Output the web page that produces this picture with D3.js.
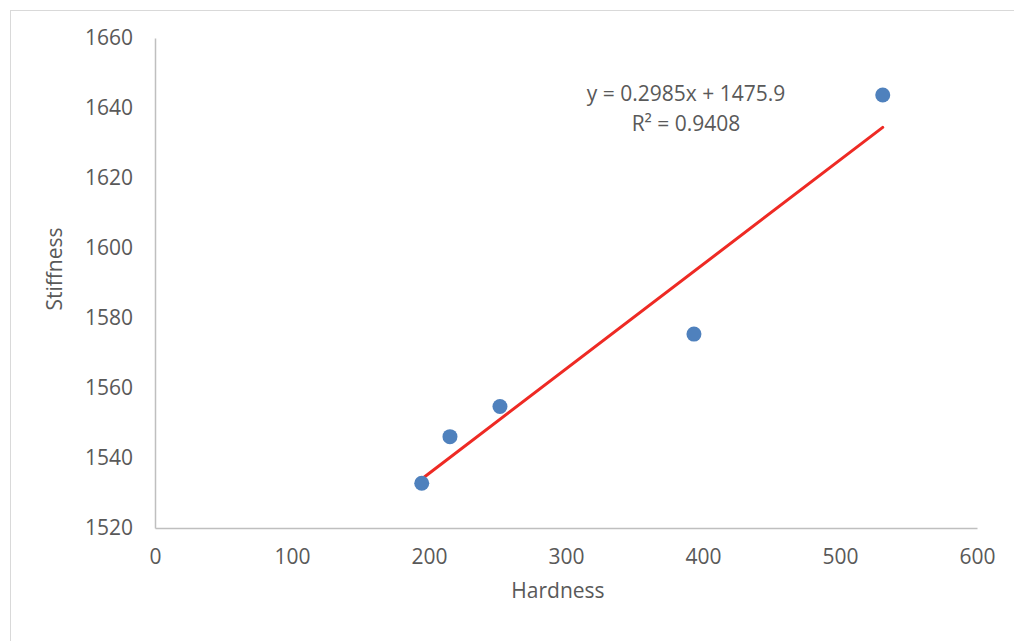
<!DOCTYPE html>
<html>
<head>
<meta charset="utf-8">
<script src="https://cdn.jsdelivr.net/npm/d3@7"></script>
<style>
    body { margin: 0; background: #fff; }
    text { font-family: "Open Sans", sans-serif; fill: #595959; }
</style>
</head>
<body>
<svg id="main-svg" width="1014" height="641"></svg>
<script>
// values
const hardness  = [194.7, 215.3, 251.8, 393.4, 531.2];
const stiffness = [1532.8, 1546.1, 1554.7, 1575.4, 1643.7];
const xTicks = [0, 100, 200, 300, 400, 500, 600];
const yTicks = [1520, 1540, 1560, 1580, 1600, 1620, 1640, 1660];
const trendSlope = 0.2985;
const trendIntercept = 1475.9;
const trendLabels = ["y = 0.2985x + 1475.9", "R\u00b2 = 0.9408"];

const svg = d3.select("#main-svg");

const plotLeft = 155, plotRight = 977, plotTop = 38, plotBottom = 528;
const fontSize = "21px";

// chart frame
svg.append("rect")
    .attr("x", 10.5).attr("y", 10.5)
    .attr("width", 1100).attr("height", 700)
    .attr("fill", "none")
    .attr("stroke", "#d9d9d9");

const x = d3.scaleLinear().domain([0, 600]).range([plotLeft, plotRight]);
const y = d3.scaleLinear().domain([1520, 1660]).range([plotBottom, plotTop]);

// axes, no tick marks, just the lines and labels
const xAxis = svg.append("g")
    .attr("transform", `translate(0,${plotBottom})`)
    .call(d3.axisBottom(x).tickValues(xTicks).tickFormat(d3.format("d")).tickSize(0).tickPadding(21));
const yAxis = svg.append("g")
    .attr("transform", `translate(${plotLeft},0)`)
    .call(d3.axisLeft(y).tickValues(yTicks).tickFormat(d3.format("d")).tickSize(0).tickPadding(22));

[xAxis, yAxis].forEach(ax => {
    ax.select(".domain").attr("stroke", "#bfbfbf").attr("stroke-width", 1.5);
    ax.selectAll("text")
        .style("font-family", '"Open Sans", sans-serif')
        .style("font-size", fontSize)
        .attr("fill", "#595959");
});

// axis titles
svg.append("text")
    .attr("x", 558).attr("y", 598)
    .attr("text-anchor", "middle")
    .style("font-size", fontSize)
    .text("Hardness");

svg.append("text")
    .attr("transform", "translate(62,269) rotate(-90)")
    .attr("text-anchor", "middle")
    .style("font-size", fontSize)
    .text("Stiffness");

// linear trendline over the data range
const xMin = d3.min(hardness), xMax = d3.max(hardness);
svg.append("line")
    .attr("x1", x(xMin)).attr("y1", y(trendSlope * xMin + trendIntercept))
    .attr("x2", x(xMax)).attr("y2", y(trendSlope * xMax + trendIntercept))
    .attr("stroke", "#ee2a24")
    .attr("stroke-width", 3)
    .attr("stroke-linecap", "round");

// points
svg.append("g")
    .selectAll("circle")
    .data(hardness.map((h, i) => [h, stiffness[i]]))
    .join("circle")
        .attr("cx", d => x(d[0]))
        .attr("cy", d => y(d[1]))
        .attr("r", 7.5)
        .attr("fill", "#4f81bd");

// equation label
svg.append("g")
    .selectAll("text")
    .data(trendLabels)
    .join("text")
        .attr("x", 686)
        .attr("y", (d, i) => 101 + i * 30)
        .attr("text-anchor", "middle")
        .style("font-size", fontSize)
        .text(d => d);
</script>
</body>
</html>
